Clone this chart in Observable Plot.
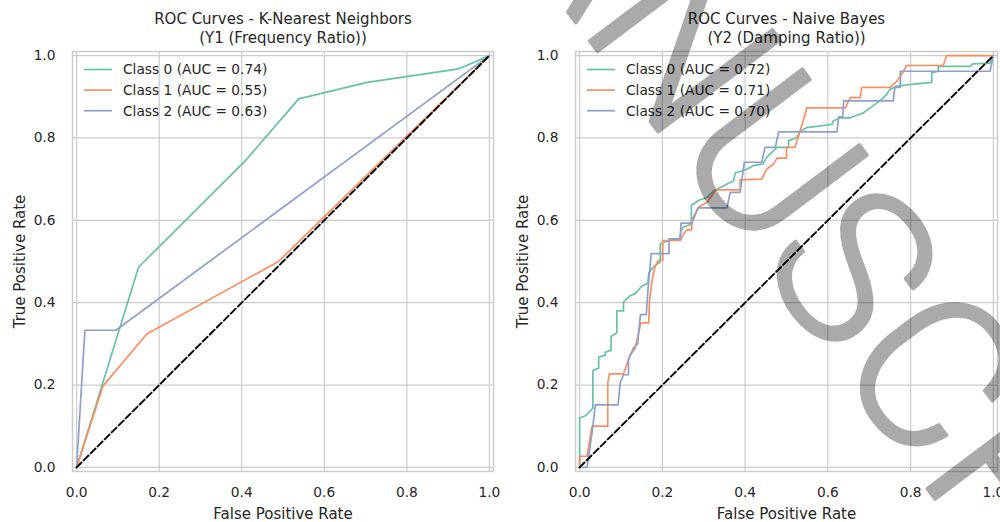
<!DOCTYPE html>
<html><head><meta charset="utf-8">
<script src="https://cdn.jsdelivr.net/npm/d3@7"></script>
<script src="https://cdn.jsdelivr.net/npm/@observablehq/plot@0.6"></script>
<style>
html,body{margin:0;padding:0;background:#fff;}
#wrap{position:relative;width:1000px;height:522px;overflow:hidden;}
.panel{position:absolute;top:0;width:500px;height:522px;}
.overlay{position:absolute;left:0;top:0;pointer-events:none;}
</style></head><body><div id="wrap"></div>
<script>
// ---------- data ----------
const axisTicks = [0, 0.2, 0.4, 0.6, 0.8, 1.0];
const classNames = ["Class 0", "Class 1", "Class 2"];
const classColors = ["#66c2a5", "#fc8d62", "#8da0cb"];
const knnAUC = [0.74, 0.55, 0.63];
const nbAUC = [0.72, 0.71, 0.70];
const knnTitle = ["ROC Curves - K-Nearest Neighbors", "(Y1 (Frequency Ratio))"];
const nbTitle = ["ROC Curves - Naive Bayes", "(Y2 (Damping Ratio))"];
const xLabel = "False Positive Rate";
const yLabel = "True Positive Rate";
const watermark = "MANUSCRIPT";

// [FPR, TPR]
const knnClass0 = [[0,0],[0.15,0.486],[0.41,0.746],[0.538,0.895],[0.704,0.935],[0.926,0.968],[1,1]];
const knnClass1 = [[0,0],[0.064,0.198],[0.17,0.324],[0.489,0.5],[1,1]];
const knnClass2 = [[0,0],[0.02,0.333],[0.095,0.333],[1,1]];

const nbClass0 = [[0,0],[0,0.12],[0.015,0.126],[0.032,0.144],[0.032,0.235],[0.046,0.241],[0.046,0.268],[0.062,0.272],[0.062,0.28],[0.076,0.284],[0.076,0.318],[0.09,0.327],[0.09,0.38],[0.106,0.38],[0.106,0.402],[0.122,0.417],[0.134,0.422],[0.15,0.44],[0.165,0.447],[0.167,0.472],[0.179,0.487],[0.195,0.5],[0.195,0.543],[0.21,0.549],[0.242,0.556],[0.245,0.575],[0.251,0.583],[0.27,0.591],[0.27,0.636],[0.287,0.648],[0.308,0.656],[0.325,0.672],[0.348,0.684],[0.372,0.696],[0.376,0.715],[0.404,0.724],[0.42,0.733],[0.443,0.737],[0.452,0.753],[0.477,0.777],[0.505,0.777],[0.505,0.793],[0.525,0.801],[0.533,0.817],[0.549,0.825],[0.581,0.829],[0.61,0.833],[0.613,0.841],[0.63,0.849],[0.654,0.849],[0.67,0.855],[0.686,0.861],[0.702,0.873],[0.726,0.89],[0.742,0.906],[0.75,0.918],[0.767,0.926],[0.807,0.931],[0.851,0.935],[0.851,0.958],[0.867,0.962],[0.867,0.974],[0.944,0.974],[0.95,0.98],[0.992,0.982],[1,1]];
const nbClass1 = [[0,0],[0,0.027],[0.018,0.027],[0.03,0.1],[0.068,0.1],[0.068,0.205],[0.072,0.227],[0.106,0.227],[0.122,0.273],[0.134,0.289],[0.148,0.351],[0.167,0.351],[0.169,0.406],[0.175,0.454],[0.183,0.49],[0.191,0.503],[0.201,0.503],[0.201,0.551],[0.243,0.551],[0.251,0.567],[0.259,0.577],[0.271,0.577],[0.271,0.6],[0.287,0.632],[0.308,0.644],[0.32,0.66],[0.328,0.674],[0.388,0.674],[0.388,0.698],[0.44,0.7],[0.452,0.724],[0.469,0.737],[0.477,0.751],[0.5,0.751],[0.5,0.777],[0.52,0.777],[0.529,0.805],[0.54,0.84],[0.549,0.873],[0.642,0.873],[0.654,0.898],[0.678,0.898],[0.682,0.923],[0.75,0.923],[0.767,0.938],[0.783,0.962],[0.79,0.976],[0.879,0.976],[0.887,1],[1,1]];
const nbClass2 = [[0,0],[0.018,0],[0.025,0.05],[0.03,0.084],[0.038,0.152],[0.093,0.152],[0.098,0.205],[0.106,0.225],[0.118,0.225],[0.118,0.261],[0.13,0.29],[0.14,0.3],[0.147,0.371],[0.161,0.371],[0.165,0.43],[0.173,0.519],[0.216,0.519],[0.216,0.555],[0.243,0.555],[0.245,0.593],[0.271,0.593],[0.28,0.615],[0.287,0.63],[0.356,0.63],[0.364,0.668],[0.388,0.668],[0.398,0.741],[0.44,0.741],[0.448,0.777],[0.473,0.777],[0.481,0.815],[0.622,0.815],[0.626,0.851],[0.636,0.851],[0.638,0.89],[0.758,0.89],[0.762,0.923],[0.775,0.923],[0.775,0.962],[0.992,0.962],[1,1]];
const chance = [[0,0],[1,1]];

// ---------- drawing ----------
const FONT = "DejaVu Sans, Verdana, sans-serif";
const TEXT = "#262626";
const GRID = "#cccccc";
const wrap = document.getElementById("wrap");
const fmt = d3.format(".1f");

function panel(cfg) {
  const txt = {textAnchor: "middle", lineAnchor: "middle", fontSize: 15, fill: TEXT};
  const plot = Plot.plot({
    width: 500, height: 522,
    marginLeft: cfg.marginLeft, marginRight: cfg.marginRight, marginTop: 51, marginBottom: 51,
    style: {fontFamily: FONT, fontSize: "13.75px", color: TEXT, background: "transparent", overflow: "visible"},
    x: {domain: [-0.01, 1.01], ticks: axisTicks, tickFormat: fmt, tickSize: 0, tickPadding: 16, label: null},
    y: {domain: [-0.01, 1.01], ticks: axisTicks, tickFormat: fmt, tickSize: 0, tickPadding: 17, label: null},
    marks: [
      Plot.ruleX(axisTicks, {stroke: GRID, strokeWidth: 1.2}),
      Plot.ruleY(axisTicks, {stroke: GRID, strokeWidth: 1.2}),
      Plot.frame({stroke: GRID, strokeWidth: 1.5}),
      ...cfg.curves.map((c, i) => Plot.line(c, {x: d => d[0], y: d => d[1], stroke: classColors[i], strokeWidth: 1.7})),
      Plot.line(chance, {x: d => d[0], y: d => d[1], stroke: "black", strokeWidth: 1.9, strokeDasharray: "6.9,3"}),
      Plot.text([cfg.title[0]], {...txt, text: d => d, frameAnchor: "top", dy: -32}),
      Plot.text([cfg.title[1]], {...txt, text: d => d, frameAnchor: "top", dy: -13.5}),
      Plot.text([xLabel], {...txt, text: d => d, frameAnchor: "bottom", dy: 42.5}),
      Plot.text([yLabel], {...txt, text: d => d, frameAnchor: "left", dx: -52, rotate: -90})
    ]
  });
  const div = document.createElement("div");
  div.className = "panel";
  div.style.left = cfg.left + "px";
  div.appendChild(plot);
  wrap.appendChild(div);
}

panel({left: 0, marginLeft: 72, marginRight: 7, title: knnTitle, curves: [knnClass0, knnClass1, knnClass2]});
panel({left: 500, marginLeft: 75, marginRight: 3, title: nbTitle, curves: [nbClass0, nbClass1, nbClass2]});

// legends + watermark overlay
const svg = d3.select(wrap).append("svg").attr("class", "overlay").attr("width", 1000).attr("height", 522);
[[72, knnAUC], [575, nbAUC]].forEach(([fl, aucs]) => {
  classNames.forEach((name, i) => {
    const y = 69.5 + i * 20.6;
    svg.append("line").attr("x1", fl + 12).attr("x2", fl + 40).attr("y1", y).attr("y2", y)
      .attr("stroke", classColors[i]).attr("stroke-width", 1.7);
    svg.append("text").attr("x", fl + 51).attr("y", y).attr("dy", "0.35em")
      .attr("font-family", FONT).attr("font-size", 13.75).attr("fill", TEXT)
      .text(`${name} (AUC = ${aucs[i].toFixed(2)})`);
  });
});
svg.append("text").attr("transform", "translate(384,-232) rotate(53)")
  .attr("font-family", "Roboto, Liberation Sans, sans-serif").attr("font-weight", 300).attr("font-size", 215)
  .attr("fill", "#000").attr("stroke", "#000").attr("stroke-width", 3.5).attr("stroke-linejoin", "round")
  .attr("opacity", 0.33).text(watermark);
</script></body></html>
